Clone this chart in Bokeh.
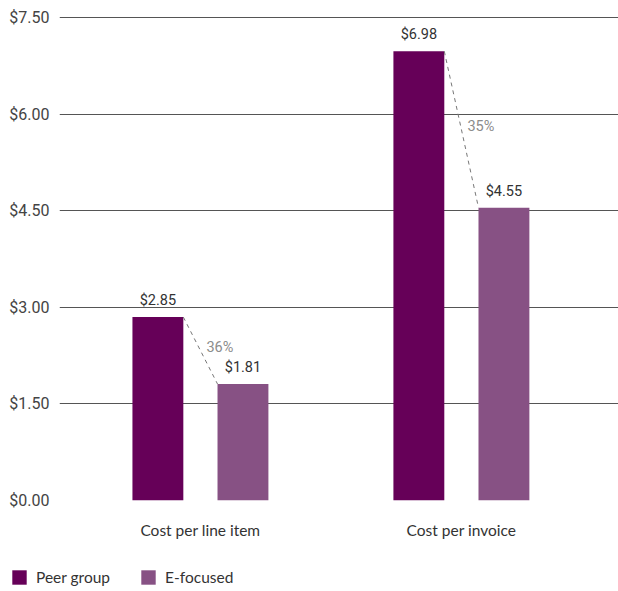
from bokeh.plotting import figure
from bokeh.layouts import column, row
from bokeh.models import (ColumnDataSource, FixedTicker, NumeralTickFormatter,
                          Legend, LegendItem, Range1d)
from bokeh.core.properties import value
from bokeh.embed import file_html
from bokeh.resources import INLINE

categories = ["Cost per line item", "Cost per invoice"]
series_names = ["Peer group", "E-focused"]
peer_group = [2.85, 6.98]
e_focused = [1.81, 4.55]
pct_labels = ["36%", "35%"]
y_ticks = [0, 1.5, 3.0, 4.5, 6.0, 7.5]

PEER_COLOR = "#660058"
EF_COLOR = "#875184"
BAR_W = 0.195
OFF = 0.163

idx = list(range(len(categories)))
peer_x = [i - OFF for i in idx]
ef_x = [i + OFF for i in idx]

p = figure(frame_width=559, frame_height=484, output_backend="svg", toolbar_location=None,
           x_range=Range1d(-0.54, 1.602), y_range=Range1d(0, 7.52),
           min_border_left=59, min_border_right=0, min_border_top=16,
           min_border_bottom=50)
p.outline_line_color = None
p.background_fill_color = "white"
p.border_fill_color = "white"

src_p = ColumnDataSource(dict(x=peer_x, top=peer_group,
                              lab=["$%.2f" % v for v in peer_group]))
src_e = ColumnDataSource(dict(x=ef_x, top=e_focused,
                              lab=["$%.2f" % v for v in e_focused]))

p.vbar(x="x", top="top", width=BAR_W, bottom=0, source=src_p,
       fill_color=PEER_COLOR, line_color=None)
p.vbar(x="x", top="top", width=BAR_W, bottom=0, source=src_e,
       fill_color=EF_COLOR, line_color=None)

lab_kw = dict(text="lab", text_align="center", text_baseline="bottom",
              y_offset=-8, text_font_size="14.5px", text_color="#333333",
              text_font=value("Roboto"))
p.text(x="x", y="top", source=src_p, **lab_kw)
p.text(x="x", y="top", source=src_e, **lab_kw)

# dashed connectors + percentage labels
x0s = [i - OFF + BAR_W / 2 for i in idx]
x1s = [i + OFF - BAR_W / 2 for i in idx]
p.segment(x0=x0s, y0=peer_group, x1=x1s, y1=e_focused,
          line_color="#777777", line_dash="4 4", line_width=1)
mid_x = [(a + b) / 2 for a, b in zip(x0s, x1s)]
mid_y = [(a + b) / 2 for a, b in zip(peer_group, e_focused)]
p.text(x=mid_x, y=mid_y, text=pct_labels, x_offset=6, y_offset=-3,
       text_align="left", text_baseline="middle", text_font_size="14.5px",
       text_color="#8c8c8c", text_font=value("Roboto"))

# axes
p.yaxis.ticker = FixedTicker(ticks=y_ticks)
p.yaxis.formatter = NumeralTickFormatter(format="$0.00")
p.yaxis.axis_line_color = None
p.yaxis.major_tick_line_color = None
p.yaxis.minor_tick_line_color = None
p.yaxis.major_label_text_font = "Roboto"
p.yaxis.major_label_text_font_size = "16px"
p.yaxis.major_label_text_color = "#444444"
p.yaxis.major_label_standoff = 4

p.xaxis.ticker = FixedTicker(ticks=idx)
p.xaxis.major_label_overrides = {i: c for i, c in zip(idx, categories)}
p.xaxis.axis_line_color = None
p.xaxis.major_tick_line_color = None
p.xaxis.minor_tick_line_color = None
p.xaxis.major_label_text_font = "Lato"
p.xaxis.major_label_text_font_size = "15.5px"
p.xaxis.major_label_text_color = "#333333"
p.xaxis.major_label_standoff = 14

p.xgrid.grid_line_color = None
p.ygrid.grid_line_color = "#555555"
p.ygrid.grid_line_width = 1

# legend strip below the chart (its ranges keep the bars out of view)
p2 = figure(width=618, height=41, output_backend="svg", toolbar_location=None,
            x_range=Range1d(50, 51), y_range=Range1d(50, 51),
            min_border=0, min_border_left=0, min_border_right=0,
            min_border_top=0, min_border_bottom=0)
p2.axis.visible = False
p2.grid.visible = False
p2.outline_line_color = None
p2.border_fill_color = "white"
lr1 = p2.vbar(x="x", top="top", width=BAR_W, bottom=0, source=src_p,
              fill_color=PEER_COLOR, line_color=None)
lr2 = p2.vbar(x="x", top="top", width=BAR_W, bottom=0, source=src_e,
              fill_color=EF_COLOR, line_color=None)

legend = Legend(items=[LegendItem(label=series_names[0], renderers=[lr1]),
                       LegendItem(label=series_names[1], renderers=[lr2])],
                orientation="horizontal", location=(10, 5),
                glyph_width=18, glyph_height=18, label_standoff=8, spacing=29,
                padding=0, margin=0, border_line_color=None,
                background_fill_alpha=0,
                label_text_font="Lato", label_text_font_size="15.5px",
                label_text_color="#333333")
p2.add_layout(legend)

layout = column(p, row(p2), spacing=0)
open("out.html", "w").write(file_html(layout, INLINE))
